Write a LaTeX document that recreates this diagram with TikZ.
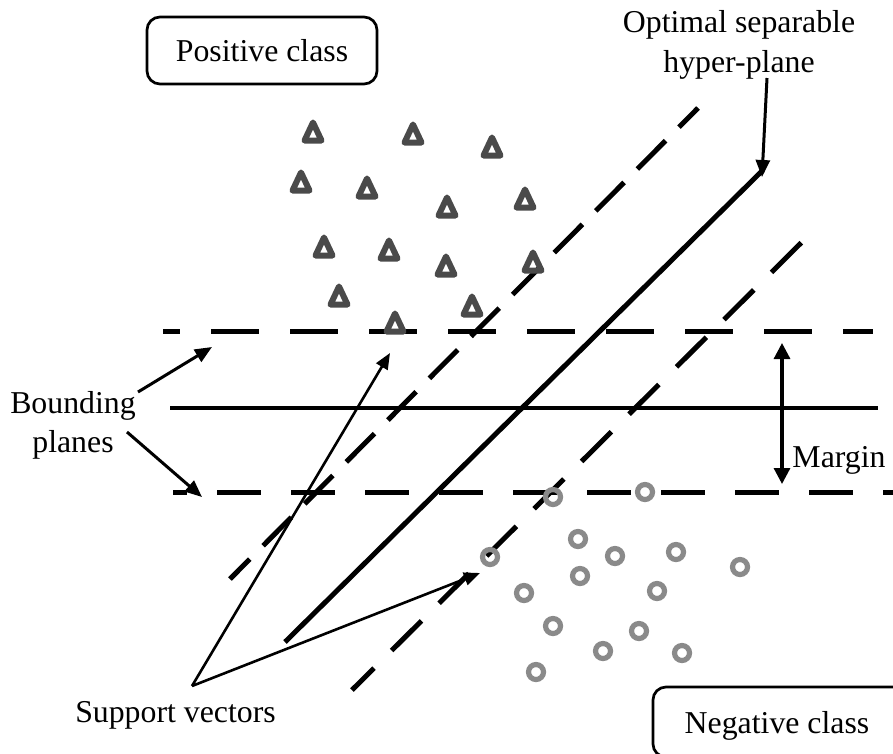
\documentclass[tikz,border=0pt]{standalone}
\usepackage{fontspec}
\setmainfont{Liberation Serif}
\usetikzlibrary{arrows.meta}
\definecolor{posgray}{HTML}{4A4A4A}
\definecolor{neggray}{HTML}{8A8A8A}
\begin{document}
\begin{tikzpicture}[x=1pt,y=-1pt,
  lbl/.style={font=\fontsize{31.8}{38}\selectfont, inner sep=0pt, anchor=base},
  classbox/.style={draw, line width=2.7pt, rounded corners=13pt, inner sep=0pt,
    font=\fontsize{31.8}{38}\selectfont},
  hplane/.style={line width=5pt},
  sepline/.style={line width=4.8pt},
  pointer/.style={line width=3pt, -{Triangle[length=17pt,width=14pt]}},
  thinpointer/.style={line width=2.6pt, -{Triangle[length=16pt,width=13pt]}},
  margin/.style={line width=3.2pt, {Triangle[length=16pt,width=16pt]}-{Triangle[length=16pt,width=16pt]}},
  postri/.style={draw=posgray, line width=6pt, line join=round},
  negpt/.style={circle, draw=neggray, line width=5.2pt, minimum size=15pt, inner sep=0pt}]
\useasboundingbox (0,0) rectangle (893,753);

% class boxes (the negative one runs past the right and bottom edges)
\node[classbox, minimum width=230pt, minimum height=67pt] (posbox) at (262,50.5) {Positive class};
\node[classbox, minimum width=300pt, minimum height=70pt] (negbox) at (803,722) {};
\node[lbl] (negtxt) at (777,733) {Negative class};

% bounding planes and the plane midway between them
\draw[hplane, dash pattern=on 48pt off 31pt, dash phase=31pt] (163,331.5) -- (873,331.5);
\draw[hplane, dash pattern=on 44pt off 30pt, dash phase=30pt] (173,492) -- (893,492);
\draw[sepline] (170,408) -- (878,408);

% optimal separable hyper-plane and its two dashed parallels
\draw[hplane, dash pattern=on 40pt off 19pt, dash phase=12pt] (230,579) -- (698,108);
\draw[hplane, dash pattern=on 42pt off 25pt, dash phase=11pt] (352,690) -- (812,232);
\draw[sepline, line width=5pt] (285,642) -- (763,170);

% positive samples
\foreach \cx/\cy in {313/133, 413/135, 492/148, 301/183, 367/189, 447/208, 525/200,
                     324/248, 389/251, 446/267, 533/263, 339/297, 472/307, 395/324}
  \draw[postri] (\cx,\cy-10.5) -- (\cx+8.5,\cy+7.5) -- (\cx-8.5,\cy+7.5) -- cycle;

% negative samples
\foreach \cx/\cy [count=\i] in {553/497, 645/492, 578/539, 490/557, 615/556, 676/552,
                     740/567, 580/576, 524/593, 657/591, 553/626, 639/631,
                     603/651, 682/653, 536/672}
  \node[negpt] (n\i) at (\cx,\cy) {};

% labels
\node[lbl] (opt1) at (739,32.5) {Optimal separable};
\node[lbl] (opt2) at (739,72) {hyper-plane};
\node[lbl] (bnd1) at (73,413) {Bounding};
\node[lbl] (bnd2) at (73,452.5) {planes};
\node[lbl] (mrg) at (839,467) {Margin};
\node[lbl] (sup) at (175.5,722) {Support vectors};

% pointer ends
\coordinate (optfrom) at (767,78);
\coordinate (optto) at (762,177);
\coordinate (bfromA) at (138,392);
\coordinate (btoA) at (212,347);
\coordinate (bfromB) at (127,432);
\coordinate (btoB) at (202,497);
\coordinate (mtop) at (782,343);
\coordinate (mbot) at (782,484);
\coordinate (svfrom) at (192,686);
\coordinate (svtoA) at (390,353);
\coordinate (svtoB) at (480,573);

\draw[pointer] (optfrom) -- (optto);
\draw[pointer] (bfromA) -- (btoA);
\draw[pointer] (bfromB) -- (btoB);
\draw[margin] (mtop) -- (mbot);
\draw[thinpointer] (svfrom) -- (svtoA);
\draw[thinpointer] (svfrom) -- (svtoB);
\end{tikzpicture}
\end{document}
